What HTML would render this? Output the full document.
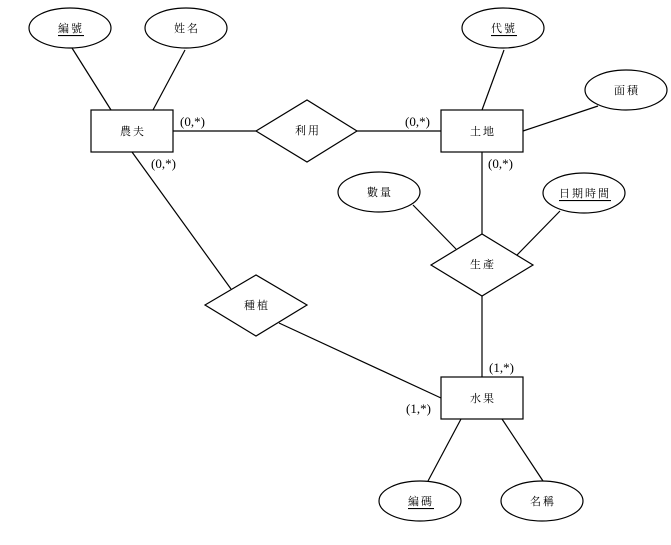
<!DOCTYPE html>
<html><head><meta charset="utf-8"><style>
html,body{margin:0;padding:0;background:#fff;}
svg{display:block;}
text{font-family:"Liberation Serif","Noto Serif CJK SC","Noto Sans CJK TC",serif;font-size:12px;fill:#000;}
.c{text-anchor:middle;dominant-baseline:central;font-size:11px;letter-spacing:2px;}
.l{font-size:13px;}
</style></head><body>
<svg width="671" height="545" viewBox="0 0 671 545" xmlns="http://www.w3.org/2000/svg">
<g stroke="#000" stroke-width="1.2" fill="none">
<line x1="72" y1="48" x2="111" y2="110"/>
<line x1="185" y1="50" x2="153" y2="110"/>
<line x1="173" y1="131" x2="256" y2="131"/>
<line x1="357" y1="131" x2="441" y2="131"/>
<line x1="504" y1="50" x2="482" y2="110"/>
<line x1="598" y1="106" x2="523" y2="131"/>
<line x1="482" y1="152" x2="482" y2="234"/>
<line x1="413" y1="205" x2="456" y2="249"/>
<line x1="560" y1="211" x2="517" y2="255"/>
<line x1="482" y1="296" x2="482" y2="377"/>
<line x1="132" y1="152" x2="231" y2="289"/>
<line x1="279" y1="323" x2="441" y2="398"/>
<line x1="461" y1="419" x2="428" y2="481"/>
<line x1="502" y1="419" x2="543" y2="481"/>
<ellipse cx="70" cy="28" rx="41" ry="20" fill="#fff"/>
<ellipse cx="186" cy="28" rx="41" ry="20" fill="#fff"/>
<ellipse cx="503" cy="28" rx="41" ry="20" fill="#fff"/>
<ellipse cx="626" cy="90" rx="41" ry="20" fill="#fff"/>
<ellipse cx="379" cy="192" rx="41" ry="20" fill="#fff"/>
<ellipse cx="584" cy="193" rx="41" ry="20" fill="#fff"/>
<ellipse cx="420" cy="501" rx="41" ry="20" fill="#fff"/>
<ellipse cx="542" cy="501" rx="41" ry="20" fill="#fff"/>
<rect x="91" y="110" width="82" height="42" fill="#fff"/>
<rect x="441" y="110" width="82" height="42" fill="#fff"/>
<rect x="441" y="377" width="82" height="42" fill="#fff"/>
<polygon points="256,131 307,100 357,131 307,162" fill="#fff"/>
<polygon points="431,265 482,234 533,265 482,296" fill="#fff"/>
<polygon points="205,305 256,275 307,305 256,336" fill="#fff"/>
</g>
<g>
<text class="c" x="71" y="29" text-decoration="underline">編號</text>
<text class="c" x="187" y="29">姓名</text>
<text class="c" x="504" y="29" text-decoration="underline">代號</text>
<text class="c" x="627" y="91">面積</text>
<text class="c" x="380" y="193">數量</text>
<text class="c" x="585" y="194" text-decoration="underline">日期時間</text>
<text class="c" x="421" y="502" text-decoration="underline">編碼</text>
<text class="c" x="543" y="502">名稱</text>
<text class="c" x="133" y="132">農夫</text>
<text class="c" x="483" y="132">土地</text>
<text class="c" x="483" y="399">水果</text>
<text class="c" x="308" y="131">利用</text>
<text class="c" x="483" y="265">生產</text>
<text class="c" x="257" y="306">種植</text>
<text class="l" x="180" y="126">(0,*)</text>
<text class="l" x="151" y="168">(0,*)</text>
<text class="l" x="405" y="126">(0,*)</text>
<text class="l" x="488" y="168">(0,*)</text>
<text class="l" x="489" y="372">(1,*)</text>
<text class="l" x="406" y="413">(1,*)</text>
</g>
</svg>
</body></html>
